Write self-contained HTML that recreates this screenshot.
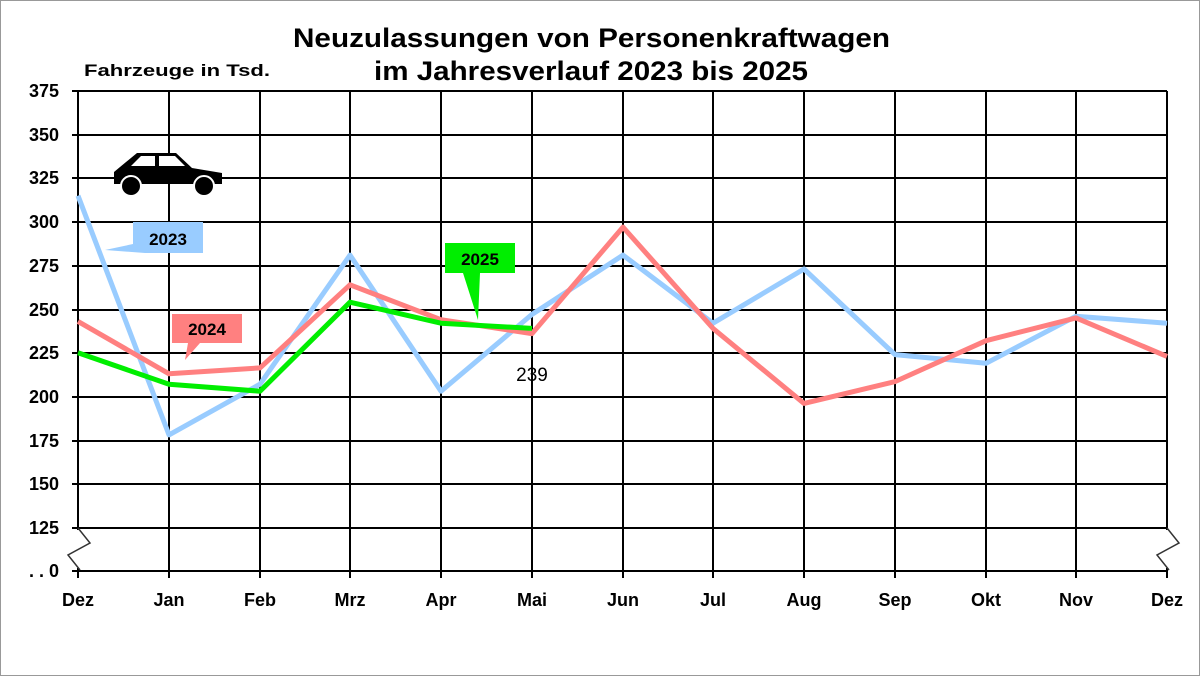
<!DOCTYPE html>
<html><head><meta charset="utf-8"><style>
html,body{margin:0;padding:0;background:#fff}
svg{display:block}
text{font-family:"Liberation Sans",Arial,sans-serif}
</style></head><body>
<svg width="1200" height="676" viewBox="0 0 1200 676">
<rect x="0.5" y="0.5" width="1199" height="675" fill="#fff" stroke="#999"/>
<text x="293" y="47" textLength="597" lengthAdjust="spacingAndGlyphs" font-size="27" font-weight="bold">Neuzulassungen von Personenkraftwagen</text>
<text x="374" y="80" textLength="434" lengthAdjust="spacingAndGlyphs" font-size="27" font-weight="bold">im Jahresverlauf 2023 bis 2025</text>
<text x="84" y="76" textLength="186" lengthAdjust="spacingAndGlyphs" font-size="17" font-weight="bold">Fahrzeuge in Tsd.</text>
<g stroke="#000" stroke-width="2">
<line x1="72" y1="91" x2="1167" y2="91"/><line x1="72" y1="135" x2="1167" y2="135"/><line x1="72" y1="178" x2="1167" y2="178"/><line x1="72" y1="222" x2="1167" y2="222"/><line x1="72" y1="266" x2="1167" y2="266"/><line x1="72" y1="310" x2="1167" y2="310"/><line x1="72" y1="353" x2="1167" y2="353"/><line x1="72" y1="397" x2="1167" y2="397"/><line x1="72" y1="441" x2="1167" y2="441"/><line x1="72" y1="484" x2="1167" y2="484"/><line x1="72" y1="528" x2="1167" y2="528"/><line x1="72" y1="571" x2="1167" y2="571"/>
<line x1="78" y1="91" x2="78" y2="578"/><line x1="169" y1="91" x2="169" y2="578"/><line x1="260" y1="91" x2="260" y2="578"/><line x1="350" y1="91" x2="350" y2="578"/><line x1="441" y1="91" x2="441" y2="578"/><line x1="532" y1="91" x2="532" y2="578"/><line x1="623" y1="91" x2="623" y2="578"/><line x1="713" y1="91" x2="713" y2="578"/><line x1="804" y1="91" x2="804" y2="578"/><line x1="895" y1="91" x2="895" y2="578"/><line x1="986" y1="91" x2="986" y2="578"/><line x1="1076" y1="91" x2="1076" y2="578"/><line x1="1167" y1="91" x2="1167" y2="578"/>
</g>
<rect x="70" y="530" width="16" height="38" fill="#fff"/>
<rect x="1159" y="530" width="16" height="38" fill="#fff"/>
<polyline points="78,528 90,543 68,555 80,570" fill="none" stroke="#333" stroke-width="1.5"/>
<polyline points="1167,528 1179,543 1157,555 1169,570" fill="none" stroke="#333" stroke-width="1.5"/>
<g font-size="18" font-weight="bold" text-anchor="end">
<text x="59" y="97">375</text><text x="59" y="141">350</text><text x="59" y="184">325</text><text x="59" y="228">300</text><text x="59" y="272">275</text><text x="59" y="316">250</text><text x="59" y="359">225</text><text x="59" y="403">200</text><text x="59" y="447">175</text><text x="59" y="490">150</text><text x="59" y="534">125</text><text x="59" y="577">. . 0</text>
</g>
<g font-size="18" font-weight="bold" text-anchor="middle">
<text x="78" y="606">Dez</text><text x="169" y="606">Jan</text><text x="260" y="606">Feb</text><text x="350" y="606">Mrz</text><text x="441" y="606">Apr</text><text x="532" y="606">Mai</text><text x="623" y="606">Jun</text><text x="713" y="606">Jul</text><text x="804" y="606">Aug</text><text x="895" y="606">Sep</text><text x="986" y="606">Okt</text><text x="1076" y="606">Nov</text><text x="1167" y="606">Dez</text>
</g>
<polyline fill="none" stroke="#99ccff" stroke-width="5" stroke-linejoin="round" points="78,195.7 169,434.9 260,384.2 350,255.1 441,391.2 532,314.4 623,255.1 713,323.2 804,269 895,354.6 986,363.3 1076,316.2 1167,323.2"/>
<polyline fill="none" stroke="#ff8080" stroke-width="5" stroke-linejoin="round" points="78,321.4 169,373.8 260,367.9 350,284.8 441,319.7 532,333.6 623,227.1 713,328.4 804,403.4 895,381.6 986,340.7 1076,317.9 1167,356.4"/>
<polyline fill="none" stroke="#00ee00" stroke-width="5" stroke-linejoin="round" points="78,352.8 169,384.2 260,391.2 350,302.2 441,323.2 532,328.4"/>
<text x="532" y="381" font-size="19" text-anchor="middle">239</text>
<polygon points="133,222 203,222 203,253 145,253 105,250 133,244" fill="#99ccff"/>
<text x="168" y="245" font-size="17" font-weight="bold" text-anchor="middle">2023</text>
<polygon points="172,314 242,314 242,343 200,343 185,360 188,343 172,343" fill="#ff8080"/>
<text x="207" y="335" font-size="17" font-weight="bold" text-anchor="middle">2024</text>
<polygon points="445,243 515,243 515,273 480,273 478,320 463,273 445,273" fill="#00ee00"/>
<text x="480" y="265" font-size="17" font-weight="bold" text-anchor="middle">2025</text>
<g fill="#000">
<path d="M114,172 L114,184 L222,184 L222,173 L192,168 L176,153 L137,153 L120,167 Z"/>
<path d="M131,166 L141,156 L155,156 L155,166 Z" fill="#fff"/>
<path d="M159,156 L175,156 L185,166 L159,166 Z" fill="#fff"/>
<circle cx="131" cy="186" r="10" stroke="#fff" stroke-width="2"/>
<circle cx="204" cy="186" r="10" stroke="#fff" stroke-width="2"/>
</g>
</svg>
</body></html>
